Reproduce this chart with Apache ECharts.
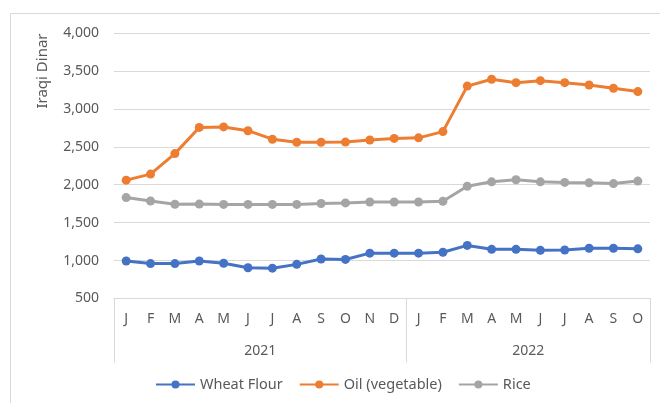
<!DOCTYPE html>
<html>
<head>
<meta charset="utf-8">
<script src="https://cdn.jsdelivr.net/npm/echarts@6/dist/echarts.min.js"></script>
<style>
  html, body { margin: 0; padding: 0; background: #fff; }
  #main { width: 660px; height: 403px; }
</style>
</head>
<body>
<div id="main"></div>
<script>
// months across two years
const months = ['J', 'F', 'M', 'A', 'M', 'J', 'J', 'A', 'S', 'O', 'N', 'D',
  'J', 'F', 'M', 'A', 'M', 'J', 'J', 'A', 'S', 'O'];
const years = [{ label: '2021', start: 0, count: 12 }, { label: '2022', start: 12, count: 10 }];

const wheatFlour = [995, 960, 960, 995, 965, 905, 900, 950, 1020, 1015, 1098, 1098,
  1098, 1110, 1200, 1148, 1148, 1135, 1140, 1162, 1162, 1155];
const oilVegetable = [2060, 2140, 2410, 2755, 2762, 2712, 2600, 2560, 2560, 2562, 2590, 2610,
  2618, 2700, 3300, 3390, 3345, 3372, 3345, 3315, 3272, 3228];
const rice = [1830, 1786, 1742, 1745, 1740, 1740, 1740, 1740, 1752, 1760, 1772, 1772,
  1772, 1782, 1980, 2038, 2065, 2038, 2030, 2025, 2015, 2048];

const yTicks = { min: 500, max: 4000, step: 500 };

const textColor = '#595959';
const lineColor = '#d9d9d9';
const font = '"Noto Sans", sans-serif';

// year row: a value axis spanning the same 22 slots
const yearCenters = years.map(y => y.start + y.count / 2);
const yearBounds = [0].concat(years.map(y => y.start + y.count));

const chart = echarts.init(document.getElementById('main'));

function lineSeries(name, data, color) {
  return {
    name: name,
    type: 'line',
    data: data,
    symbol: 'circle',
    symbolSize: 9,
    lineStyle: { width: 3, color: color },
    itemStyle: { color: color },
    emphasis: { disabled: true }
  };
}

chart.setOption({
  animation: false,
  textStyle: { fontFamily: font },
  grid: { left: 114, right: 10, top: 33, bottom: 104.5 },
  legend: {
    bottom: 6,
    left: 150,
    itemWidth: 39,
    itemHeight: 10,
    itemGap: 16,
    textStyle: { color: textColor, fontSize: 14.5, fontFamily: font },
    data: ['Wheat Flour', 'Oil (vegetable)', 'Rice']
  },
  xAxis: [
    {
      type: 'category',
      data: months,
      boundaryGap: true,
      axisLine: { lineStyle: { color: lineColor, width: 1 } },
      axisTick: { show: false },
      axisLabel: { color: textColor, fontSize: 14, margin: 14, interval: 0 }
    },
    {
      type: 'value',
      min: 0,
      max: months.length,
      position: 'bottom',
      axisLine: { show: false },
      splitLine: { show: false },
      axisTick: {
        show: true,
        customValues: yearBounds,
        length: 64,
        lineStyle: { color: lineColor, width: 1 }
      },
      axisLabel: {
        color: textColor,
        fontSize: 14,
        margin: 46,
        customValues: yearCenters,
        formatter: function (v) {
          const y = years.find(y => y.start + y.count / 2 === v);
          return y ? y.label : '';
        }
      }
    }
  ],
  yAxis: {
    type: 'value',
    min: yTicks.min,
    max: yTicks.max,
    interval: yTicks.step,
    axisLine: { show: false },
    axisTick: { show: false },
    splitLine: { lineStyle: { color: lineColor, width: 1 } },
    axisLabel: {
      color: textColor,
      fontSize: 14,
      margin: 15,
      formatter: v => v.toLocaleString('en-US')
    }
  },
  graphic: [
    {
      type: 'rect',
      shape: { x: 10.5, y: 13.5, width: 700, height: 500 },
      style: { fill: 'none', stroke: lineColor, lineWidth: 1 },
      silent: true,
      z: -10
    },
    {
      type: 'text',
      x: 43,
      y: 71,
      rotation: Math.PI / 2,
      style: {
        text: 'Iraqi Dinar',
        fill: textColor,
        font: '15px "Noto Sans", sans-serif',
        align: 'center',
        verticalAlign: 'middle'
      }
    }
  ],
  series: [
    lineSeries('Wheat Flour', wheatFlour, '#4472C4'),
    lineSeries('Oil (vegetable)', oilVegetable, '#ED7D31'),
    lineSeries('Rice', rice, '#A5A5A5')
  ]
});
</script>
</body>
</html>
